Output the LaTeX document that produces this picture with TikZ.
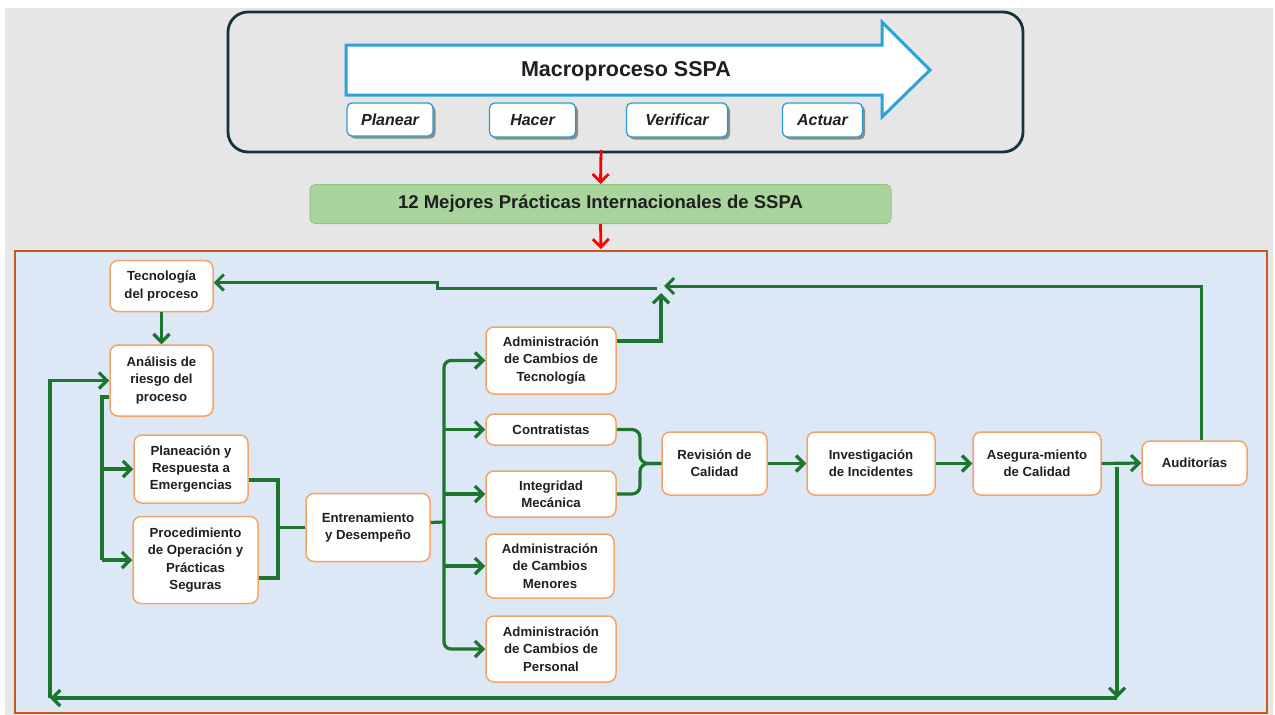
\documentclass[tikz,border=0pt]{standalone}
\usepackage{fontspec}
\setmainfont{Liberation Sans}
\usetikzlibrary{arrows.meta,shadows}

\definecolor{bggray}{HTML}{E6E6E6}
\definecolor{navy}{HTML}{17323F}
\definecolor{arrowblue}{HTML}{2AA3D6}
\definecolor{boxblue}{HTML}{2E9BD0}
\definecolor{gfill}{HTML}{A9D59C}
\definecolor{gline}{HTML}{8DC780}
\definecolor{panel}{HTML}{DCE8F5}
\definecolor{rust}{HTML}{C5591E}
\definecolor{orng}{HTML}{F3A467}
\definecolor{flowgreen}{HTML}{1E7530}
\definecolor{txt}{HTML}{1F1F1F}

\tikzset{
  proc/.style={draw=orng, line width=1.5pt, fill=white, rounded corners=8pt,
    align=center, text=txt, inner sep=2pt,
    font=\fontsize{13.2}{17.3}\selectfont\bfseries},
  phase/.style={draw=boxblue, line width=1.3pt, fill=white, rounded corners=5pt,
    align=center, text=txt, inner sep=2pt,
    font=\fontsize{16}{19}\selectfont\bfseries\itshape,
    drop shadow={shadow xshift=2.5pt, shadow yshift=-2.5pt, fill=black!45, opacity=1}},
  flow/.style={draw=flowgreen, line width=3.2pt},
  flowarr/.style={flow, -{Straight Barb[length=8pt,width=16pt]}},
  redarr/.style={draw=red, line width=2.8pt, -{Straight Barb[length=8pt,width=16pt]}}
}

\begin{document}
\begin{tikzpicture}[x=1pt,y=-1pt]
\useasboundingbox (0,0) rectangle (1275,715);
\fill[white] (0,0) rectangle (1275,715);
\fill[bggray] (5,8) rectangle (1273,715);

% macroprocess frame
\draw[navy, line width=2.8pt, rounded corners=20pt] (228,12) rectangle (1023,152);

% big process arrow
\draw[arrowblue, line width=3pt, fill=white, line join=miter]
  (346,45) -- (882,45) -- (882,22) -- (930,70) -- (882,117) -- (882,95) -- (346,95) -- cycle;
\node[font=\fontsize{21.5}{25}\selectfont\bfseries, text=txt] (macro) at (626,71) {Macroproceso SSPA};

% PHVA phases
\node[phase, minimum width=86pt, minimum height=33pt] (planear) at (390,119.5) {Planear};
\node[phase, minimum width=86pt, minimum height=34pt] (hacer) at (532.5,120) {Hacer};
\node[phase, minimum width=101pt, minimum height=34pt] (verificar) at (677,120) {Verificar};
\node[phase, minimum width=80pt, minimum height=34pt] (actuar) at (822.5,120) {Actuar};

% best practices banner
\node[draw=gline, line width=1pt, fill=gfill, rounded corners=5pt, minimum width=581pt,
  minimum height=39pt, text=txt, font=\fontsize{18.5}{22}\selectfont\bfseries]
  (practicas) at (600.5,204) {12 Mejores Prácticas Internacionales de SSPA};

% panel of practices
\draw[rust, line width=2.8pt, fill=panel] (15,251) rectangle (1267,713);

\coordinate (frameb) at (601,150);
\coordinate (panelt) at (601,249);
\draw[redarr] (frameb) -- (practicas.north);
\draw[redarr] (practicas.south) -- (panelt);

% practice boxes
\node[proc, minimum width=103pt, minimum height=51pt] (tec) at (161.5,286) {Tecnología\\del proceso};
\node[proc, minimum width=103pt, minimum height=71pt] (ana) at (161.5,380.5) {Análisis de\\riesgo del\\proceso};
\node[proc, minimum width=114pt, minimum height=68pt] (pla) at (191,469) {Planeación y\\Respuesta a\\Emergencias};
\node[proc, minimum width=125pt, minimum height=87pt] (pro) at (195.5,560) {Procedimiento\\de Operación y\\Prácticas\\Seguras};
\node[proc, minimum width=124pt, minimum height=68pt] (ent) at (368,527.5) {Entrenamiento\\y Desempeño};
\node[proc, minimum width=130pt, minimum height=67pt] (act) at (551,360.5) {Administración\\de Cambios de\\Tecnología};
\node[proc, minimum width=130pt, minimum height=31pt] (con) at (551,429.5) {Contratistas};
\node[proc, minimum width=130pt, minimum height=46pt] (int) at (551,494) {Integridad\\Mecánica};
\node[proc, minimum width=128pt, minimum height=64pt] (men) at (550,566) {Administración\\de Cambios\\Menores};
\node[proc, minimum width=130pt, minimum height=66pt] (per) at (551,649) {Administración\\de Cambios de\\Personal};
\node[proc, minimum width=105pt, minimum height=63pt] (rev) at (714.5,463.5) {Revisión de\\Calidad};
\node[proc, minimum width=128pt, minimum height=63pt] (inv) at (871,463.5) {Investigación\\de Incidentes};
\node[proc, minimum width=128pt, minimum height=63pt] (asg) at (1037,463.5) {Asegura-miento\\de Calidad};
\node[proc, minimum width=105pt, minimum height=44pt] (aud) at (1194.5,463) {Auditorías};

% technology / risk chain
\draw[flowarr] (tec.south) -- (ana.north);
\draw[flow] ([yshift=-16.5pt]ana.west) -- (102,397) -- (102,0 |- pro.west);
\draw[flowarr] (102,0 |- pla.west) -- (pla.west);
\draw[flowarr] (102,0 |- pro.west) -- (pro.west);

% emergency + procedures feed training
\draw[flow] ([yshift=-11pt]pla.east) -- (278,480) -- (278,578) -- ([yshift=-18pt]pro.east);
\draw[flow] (278,0 |- ent.west) -- (ent.west);

% training fans out
\coordinate (trunk) at (444,522);
\draw[flow] ([yshift=5pt]ent.east) -- (trunk);
\draw[flowarr, rounded corners=7pt] (trunk) |- (act.west);
\draw[flowarr, rounded corners=7pt] (trunk) |- (per.west);
\draw[flowarr] (444,0 |- con.west) -- (con.west);
\draw[flowarr] (444,0 |- int.west) -- (int.west);
\draw[flowarr] (444,0 |- men.west) -- (men.west);

% contractors + integrity merge into quality review
\draw[flow, rounded corners=8pt] (con.east) -- (640,0 |- con.east) -- (640,0 |- rev.west) -- (rev.west);
\draw[flow, rounded corners=8pt] (int.east) -- (640,0 |- int.east) -- (640,0 |- rev.west) -- (rev.west);

% main quality sequence
\draw[flowarr] (rev.east) -- (inv.west);
\draw[flowarr] (inv.east) -- (asg.west);
\draw[flowarr] (asg.east) -- (aud.west);

% feedback to risk analysis
\coordinate (drop) at (1117,467);
\coordinate (corner) at (1117,698);
\coordinate (leftc) at (50,698);
\draw[flowarr] (drop) -- (corner);
\draw[flowarr] (corner) -- (leftc);
\draw[flowarr] (leftc) -- (50,0 |- ana.west) -- (ana.west);

% feedback to process technology
\coordinate (jarr) at (664,286);
\coordinate (jup) at (661,293);
\coordinate (jleft) at (657,288);
\draw[flowarr, line width=3pt] ([xshift=6.5pt]aud.north) -- (1201,286) -- (jarr);
\draw[flowarr] ([yshift=19.5pt]act.east) -- (661,341) -- (jup);
\draw[flowarr, line width=3pt] (jleft) -- (437,288) -- (437,282.5) -- ([yshift=3.5pt]tec.east);
\end{tikzpicture}
\end{document}
